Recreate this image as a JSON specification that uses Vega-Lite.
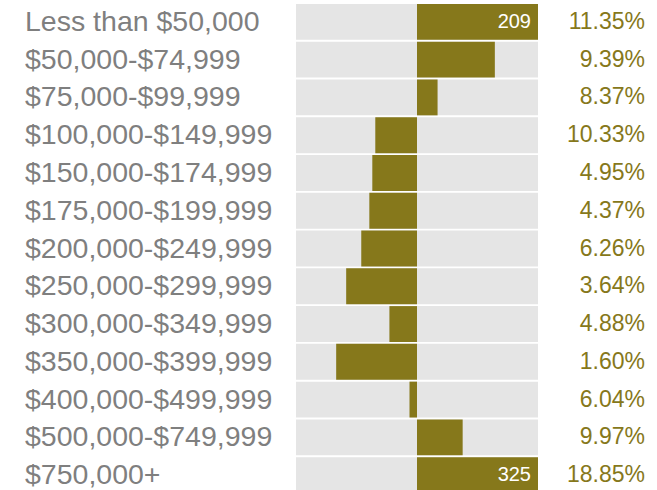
{
  "$schema": "https://vega.github.io/schema/vega-lite/v6.json",
  "padding": {"left": 25, "top": 3, "right": 0, "bottom": 0},
  "spacing": 0,
  "config": {"view": {"stroke": null}, "font": "Liberation Sans"},
  "data": {"values": [
    {"cat": "Less than $50,000", "v": 209, "pct": "11.35%", "lbl": "209"},
    {"cat": "$50,000-$74,999", "v": 96.5, "pct": "9.39%", "lbl": ""},
    {"cat": "$75,000-$99,999", "v": 25.5, "pct": "8.37%", "lbl": ""},
    {"cat": "$100,000-$149,999", "v": -51.7, "pct": "10.33%", "lbl": ""},
    {"cat": "$150,000-$174,999", "v": -55.4, "pct": "4.95%", "lbl": ""},
    {"cat": "$175,000-$199,999", "v": -59.1, "pct": "4.37%", "lbl": ""},
    {"cat": "$200,000-$249,999", "v": -69.1, "pct": "6.26%", "lbl": ""},
    {"cat": "$250,000-$299,999", "v": -87.8, "pct": "3.64%", "lbl": ""},
    {"cat": "$300,000-$349,999", "v": -34.2, "pct": "4.88%", "lbl": ""},
    {"cat": "$350,000-$399,999", "v": -100.2, "pct": "1.60%", "lbl": ""},
    {"cat": "$400,000-$499,999", "v": -9.3, "pct": "6.04%", "lbl": ""},
    {"cat": "$500,000-$749,999", "v": 56.6, "pct": "9.97%", "lbl": ""},
    {"cat": "$750,000+", "v": 325, "pct": "18.85%", "lbl": "325"}
  ]},
  "hconcat": [
    {
      "width": 271, "height": 491,
      "mark": {"type": "text", "align": "left", "baseline": "middle", "fontSize": 28.5, "color": "#7f7f7f"},
      "encoding": {
        "y": {"field": "cat", "type": "nominal", "sort": null, "axis": null, "scale": {"paddingInner": 0.05, "paddingOuter": 0.025}},
        "x": {"datum": 0, "type": "quantitative", "scale": {"domain": [0, 1]}, "axis": null},
        "text": {"field": "cat"}
      }
    },
    {
      "width": 242, "height": 491,
      "encoding": {
        "y": {"field": "cat", "type": "nominal", "sort": null, "axis": null, "scale": {"paddingInner": 0.05, "paddingOuter": 0.025}}
      },
      "layer": [
        {
          "mark": {"type": "bar", "color": "#e5e5e5"},
          "encoding": {
            "x": {"datum": -150, "type": "quantitative", "scale": {"domain": [-150, 150], "nice": false}, "axis": null},
            "x2": {"datum": 150}
          }
        },
        {
          "mark": {"type": "bar", "color": "#86781b", "clip": true},
          "encoding": {
            "x": {"field": "v", "type": "quantitative", "scale": {"domain": [-150, 150], "nice": false}, "axis": null},
            "x2": {"datum": 0}
          }
        },
        {
          "transform": [{"filter": "datum.lbl != ''"}],
          "mark": {"type": "text", "align": "right", "baseline": "middle", "dx": -7, "fontSize": 20, "color": "white"},
          "encoding": {
            "x": {"datum": 150, "type": "quantitative", "scale": {"domain": [-150, 150], "nice": false}, "axis": null},
            "text": {"field": "lbl"}
          }
        }
      ]
    },
    {
      "width": 107, "height": 491,
      "mark": {"type": "text", "align": "right", "baseline": "middle", "fontSize": 23, "color": "#86781b"},
      "encoding": {
        "y": {"field": "cat", "type": "nominal", "sort": null, "axis": null, "scale": {"paddingInner": 0.05, "paddingOuter": 0.025}},
        "x": {"datum": 1, "type": "quantitative", "scale": {"domain": [0, 1]}, "axis": null},
        "text": {"field": "pct"}
      }
    }
  ]
}
